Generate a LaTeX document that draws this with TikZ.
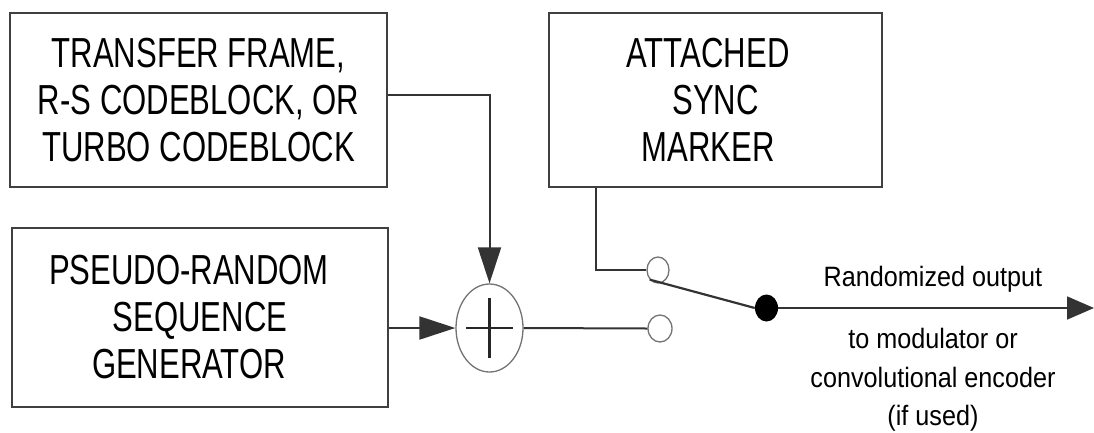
\documentclass[tikz,border=0pt]{standalone}
\usepackage{fontspec}
\setmainfont{Liberation Sans}
\newfontfamily\boxfont[FakeStretch=0.74]{Liberation Sans}
\newfontfamily\notefont[FakeStretch=0.9]{Liberation Sans}
\usetikzlibrary{calc,arrows.meta,shapes.geometric}
\tikzset{
  blockbox/.style={draw=black!75, line width=2pt, rectangle, align=center,
    font=\boxfont\fontsize{42}{47}\selectfont, inner sep=0pt},
  wire/.style={draw=black!80, line width=2pt},
  bigtip/.style={-{Triangle[length=36pt,width=23pt]}},
  contact/.style={draw=black!55, line width=1.3pt, ellipse, inner sep=0pt},
  notetext/.style={align=center, font=\notefont\fontsize{28}{38.5}\selectfont}
}

\begin{document}
\begin{tikzpicture}[x=1pt, y=-1pt]
		%%%%% START %%%%%
		\useasboundingbox (0, 0) rectangle (1094, 432);
		
		% source blocks
		\node[blockbox, minimum width=377pt, minimum height=174pt] (frame) at (198.5, 100)
			{TRANSFER FRAME,\\R-S CODEBLOCK, OR\\TURBO CODEBLOCK};
		\node[blockbox, minimum width=376pt, minimum height=179pt] (prng) at (200, 317.5)
			{PSEUDO-RANDOM\hspace*{22pt}\\SEQUENCE\hspace*{22pt}\\GENERATOR\hspace*{22pt}};
		\node[blockbox, minimum width=333pt, minimum height=174pt] (asm) at (715.5, 100)
			{ATTACHED\hspace*{15pt}\\SYNC\hspace*{15pt}\\MARKER\hspace*{15pt}};
		
		% exclusive-or
		\node[contact, minimum width=67pt, minimum height=88pt] (xor) at (489.5, 328) {};
		\draw[line width=2.2pt, black!85] ($(xor.center)+(-23.5, 0)$) -- ($(xor.center)+(23.5, 0)$);
		\draw[line width=2.2pt, black!85] ($(xor.center)+(0, -30)$) -- ($(xor.center)+(0, 30)$);
		
		% switch
		\node[contact, minimum width=22pt, minimum height=26pt] (cup) at (658, 270) {};
		\node[contact, minimum width=24pt, minimum height=27pt] (clow) at (660, 328.5) {};
		\node[ellipse, fill=black, inner sep=0pt, minimum width=23pt, minimum height=27pt] (pivot) at (766.5, 308) {};
		\coordinate (out) at (1094, 308);
		
		% connections
		\draw[wire, bigtip] ([yshift=5pt]frame.east) -| (xor.north);
		\draw[wire, bigtip] (prng.east |- xor.west) -- (xor.west);
		\draw[wire] (xor.east) -- (clow.west);
		\draw[wire] ([xshift=48pt]asm.south west) |- (cup.west);
		\draw[wire, line width=2.2pt] (cup.south west) -- (pivot.west);
		\draw[wire, line width=1.6pt, -{Triangle[length=27pt,width=23pt]}] (pivot.east) -- (out);
		
		% output labels
		\node[notetext] (outlbl) at (933, 279) {Randomized output};
		\node[notetext] (destlbl) at (933, 380) {to modulator or\\convolutional encoder\\(if used)};
		%%%%% END %%%%%
	\end{tikzpicture}
\end{document}
